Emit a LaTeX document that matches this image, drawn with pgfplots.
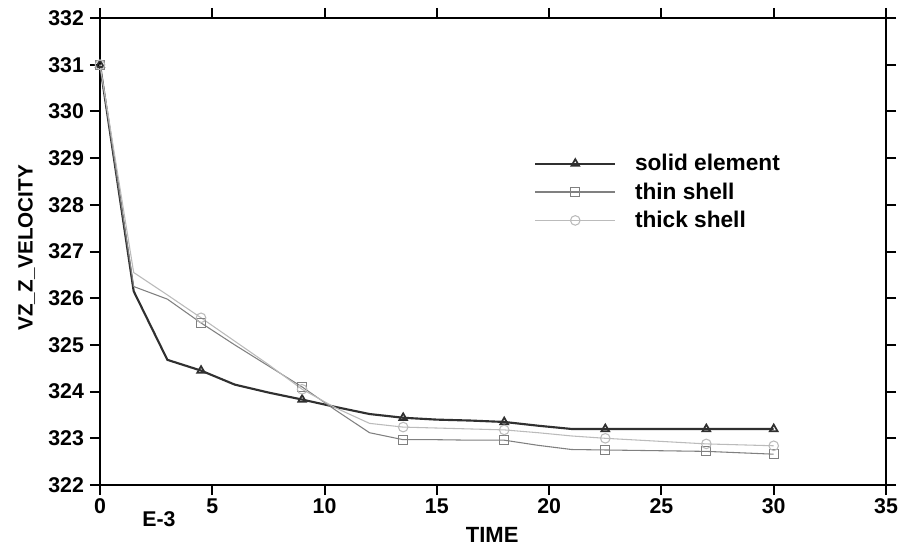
\documentclass[border=0pt]{standalone}
\usepackage{fontspec}
\setmainfont{Liberation Sans}
\usepackage{pgfplots}
\pgfplotsset{compat=1.18}
\definecolor{solidc}{HTML}{303030}
\definecolor{thinc}{HTML}{808080}
\definecolor{thickc}{HTML}{BBBBBB}
\begin{document}
\begin{tikzpicture}
\begin{axis}[
  scale only axis, width=589.5pt, height=350.25pt,
  xmin=0, xmax=35, ymin=322, ymax=332,
  xtick={0,5,...,35}, ytick={322,323,...,332},
  axis line style={line width=1.5pt, black},
  major tick style={line width=1.5pt, black},
  major tick length=7.5pt, tick align=outside,
  /pgf/number format/assume math mode=true,
  ticklabel style={font=\fontsize{16}{18}\selectfont\bfseries},
  xticklabel style={yshift=1pt},
  yticklabel style={xshift=-1pt},
  legend style={draw=none, fill=none, at={(rel axis cs:0.547,0.72)}, anchor=north west,
    font=\fontsize{17}{19}\selectfont\bfseries, row sep=3.5pt, cells={anchor=west}},
  legend image code/.code={\draw[mark repeat=2,mark phase=2] plot coordinates {(0pt,0pt)(30pt,0pt)(60pt,0pt)};},
  clip=false,
]
% solid element
\addplot[color=solidc, line width=1.6pt, mark=triangle, mark size=3.3pt, mark options={solid, line width=1.3pt},
  mark indices={1,4,7,10,13,16,19,21}, forget plot] coordinates {
(0,331.0) (1.5,326.15) (3,324.68) (4.5,324.45) (6,324.15) (7.5,323.98) (9,323.83)
(10.5,323.67) (12,323.52) (13.5,323.44) (15,323.40) (16.5,323.38) (18,323.35)
(19.5,323.27) (21,323.2) (22.5,323.2) (24,323.2) (25.5,323.2) (27,323.2) (28.5,323.2) (30,323.2)};
% thin shell
\addplot[color=thinc, line width=0.8pt, mark=square, mark size=3.4pt, mark options={solid, line width=0.8pt},
  mark indices={1,4,7,10,13,16,19,21}, forget plot] coordinates {
(0,331.0) (1.5,326.25) (3,325.98) (4.5,325.47) (6,325.0) (7.5,324.55) (9,324.1)
(10.5,323.6) (12,323.12) (13.5,322.97) (15,322.97) (16.5,322.96) (18,322.96)
(19.5,322.85) (21,322.76) (22.5,322.75) (24,322.74) (25.5,322.73) (27,322.72) (28.5,322.69) (30,322.66)};
% thick shell
\addplot[color=thickc, line width=0.8pt, mark=o, mark size=3.6pt, mark options={solid, line width=0.8pt},
  mark indices={1,4,7,10,13,16,19,21}, forget plot] coordinates {
(0,331.0) (1.5,326.55) (3,326.07) (4.5,325.58) (6,325.08) (7.5,324.58) (9,324.05)
(10.5,323.65) (12,323.32) (13.5,323.24) (15,323.22) (16.5,323.2) (18,323.18)
(19.5,323.12) (21,323.05) (22.5,323.0) (24,322.96) (25.5,322.92) (27,322.88) (28.5,322.86) (30,322.84)};
\addlegendimage{color=solidc, line width=1.6pt, mark=triangle, mark size=3.3pt, mark options={solid, line width=1.3pt}}
\addlegendentry{\hspace*{12pt}solid element}
\addlegendimage{color=thinc, line width=0.8pt, mark=square, mark size=3.4pt, mark options={solid, line width=0.8pt}}
\addlegendentry{\hspace*{12pt}thin shell}
\addlegendimage{color=thickc, line width=0.8pt, mark=o, mark size=3.6pt, mark options={solid, line width=0.8pt}}
\addlegendentry{\hspace*{12pt}thick shell}
\node[font=\fontsize{16}{18}\selectfont\bfseries] at ([yshift=-26pt]rel axis cs:0.075,0) {E-3};
\node[font=\fontsize{16.5}{18}\selectfont\bfseries] at ([yshift=-37.5pt]rel axis cs:0.499,0) {TIME};
\node[font=\fontsize{15.5}{18}\selectfont\bfseries, rotate=90] at ([xshift=-55pt]rel axis cs:0,0.508) {VZ\_Z\_VELOCITY};
\coordinate (bl) at (rel axis cs:0,0);
\coordinate (tr) at (rel axis cs:1,1);
\end{axis}
\pgfresetboundingbox
\path ([shift={(-75pt,-45.75pt)}]bl) rectangle ([shift={(9pt,13.5pt)}]tr);
\end{tikzpicture}
\end{document}
